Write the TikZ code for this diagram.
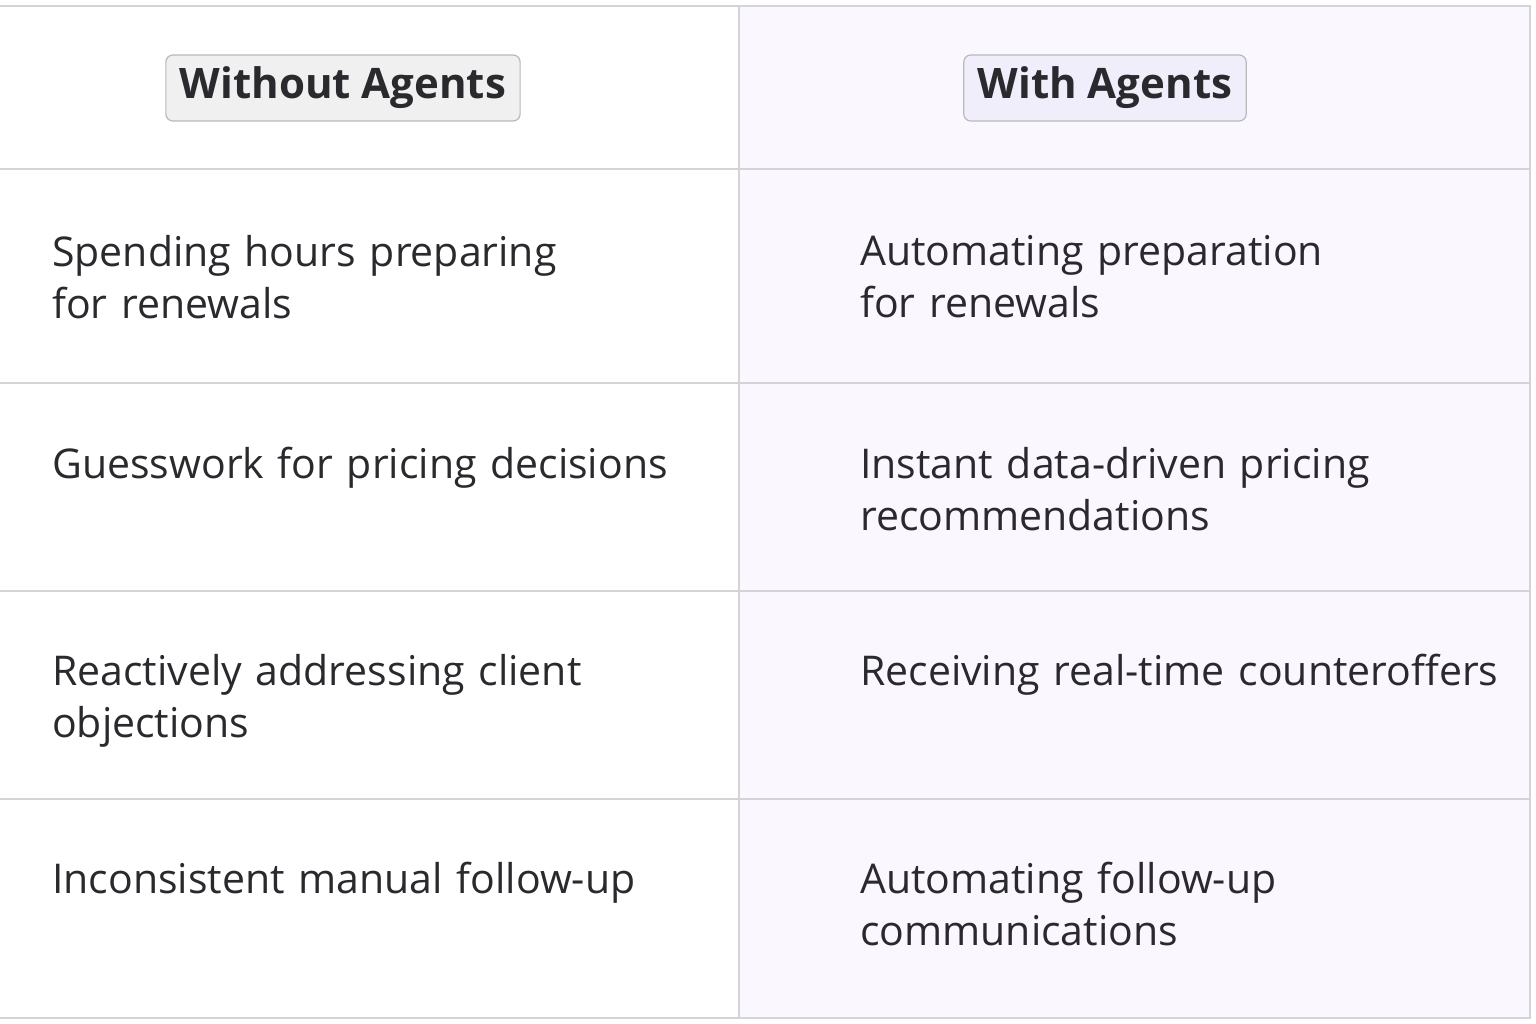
\documentclass[tikz,border=0pt]{standalone}
\usepackage{fontspec}
\setmainfont{Open Sans}
\definecolor{gridline}{HTML}{D4D4D8}
\definecolor{lav}{HTML}{FAF8FE}
\definecolor{lavbox}{HTML}{F1EEFB}
\definecolor{ink}{HTML}{2A2A2E}
\begin{document}
\begin{tikzpicture}%
	[x=1pt, y=-1pt,
	grid/.style={draw=gridline, line width=1.5pt},
	cell/.style={anchor=north west, inner sep=0pt, text width=700pt, align=left,
		font=\fontsize{41}{52}\selectfont, text=ink},
	head/.style={draw=gray!55, rounded corners=7pt, line width=1.2pt, inner xsep=14pt,
		minimum height=66pt, font=\fontsize{42}{50}\selectfont\bfseries, text=ink}]
%
\useasboundingbox (0,0) rectangle (1536,1024);
\fill[white] (0,0) rectangle (1536,1024);
\fill[lav] (739,6) rectangle (1530,1018);
%
%% Grid of the table
%%
\draw[grid] (0,6) -- (1530,6) -- (1530,1018) -- (0,1018);
\draw[grid] (739,6) -- (739,1018);
\foreach \y in {169,383,591,799}
	\draw[grid] (0,\y) -- (1530,\y);
%
%% Headers
%%
\node[head, fill=gray!12] (hwithout) at (343,88) {Without Agents};
\node[head, fill=lavbox] (hwith) at (1105,88) {With Agents};
%
%% Rows
%%
\node[cell] (w1) at (52,235) {Spending hours preparing\\for renewals};
\node[cell] (a1) at (860,235) {Automating preparation\\for renewals};
\node[cell] (w2) at (52,447) {Guesswork for pricing decisions};
\node[cell] (a2) at (860,447) {Instant data-driven pricing\\recommendations};
\node[cell] (w3) at (52,654) {Reactively addressing client\\objections};
\node[cell] (a3) at (860,654) {Receiving real-time counteroffers};
\node[cell] (w4) at (52,862) {Inconsistent manual follow-up};
\node[cell] (a4) at (860,862) {Automating follow-up\\communications};
%
\end{tikzpicture}
\end{document}
